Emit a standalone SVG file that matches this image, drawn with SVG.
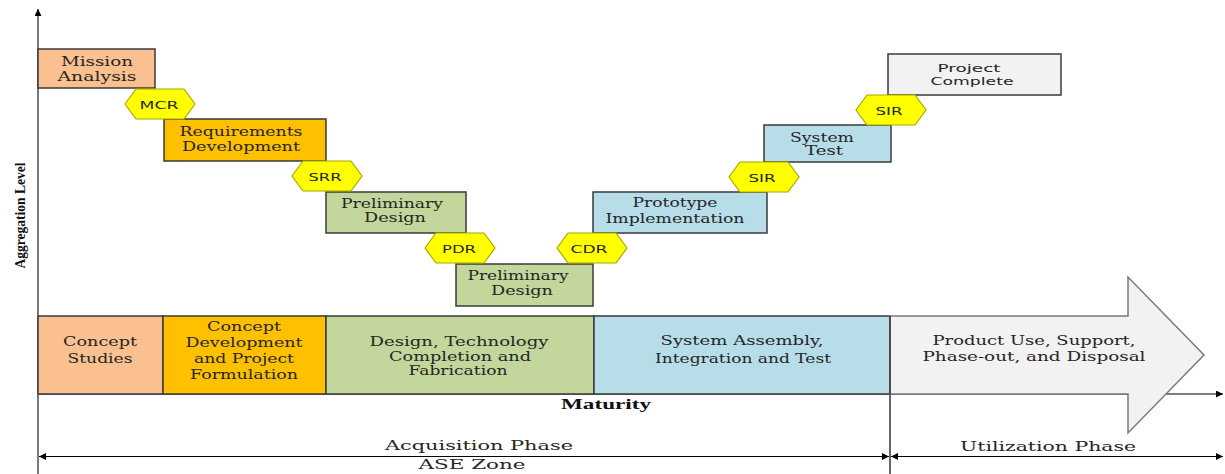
<svg xmlns="http://www.w3.org/2000/svg" width="1225" height="474" viewBox="0 0 1225 474">
<style>
.bx{stroke:#3a3a3a;stroke-width:1.5}
.peach{fill:#FAC090}.gold{fill:#FFC000}.green{fill:#C3D69B}.blue{fill:#B7DDE8}.grey{fill:#F2F2F2}
.hex{fill:#FFFF00;stroke:#A8A800;stroke-width:1.2}
.t{font-family:"DejaVu Serif","Liberation Serif",serif;font-size:12.5px;fill:#262626;text-anchor:middle}
.s{font-family:"DejaVu Sans","Liberation Sans",sans-serif;font-size:11px;fill:#262626;text-anchor:middle}
.lbl{font-family:"DejaVu Serif","Liberation Serif",serif;font-size:13px;fill:#262626;text-anchor:middle}
.b{font-family:"Liberation Serif",serif;font-weight:bold;font-size:14px;fill:#111;text-anchor:middle}
.ln{stroke:#000;stroke-width:1.2;fill:none}
</style>
<defs>
<marker id="ah" viewBox="0 0 10 10" refX="10" refY="5" markerWidth="10" markerHeight="7" markerUnits="userSpaceOnUse" orient="auto-start-reverse">
<path d="M0,0 L10,5 L0,10 z" fill="#000"/>
</marker>
<polygon id="hx" points="-35,0 -24,-15 24,-15 35,0 24,15 -24,15"/>
</defs>
<rect width="1225" height="474" fill="#fff"/>

<g id="connectors">
<line class="ln" x1="38" y1="394" x2="1223" y2="394" marker-end="url(#ah)"/>
<line x1="38" y1="474" x2="38" y2="9" stroke="#7a7a7a" stroke-width="2" marker-end="url(#ah)"/>
<line class="ln" x1="39" y1="456.5" x2="889" y2="456.5" marker-start="url(#ah)" marker-end="url(#ah)"/>
<line class="ln" x1="891" y1="456.5" x2="1223" y2="456.5" marker-start="url(#ah)" marker-end="url(#ah)"/>
<line class="ln" x1="890" y1="394" x2="890" y2="474"/>
</g>

<g id="phase-concept-studies">
<rect class="bx peach" x="38" y="316" width="125" height="78"/>
<text class="t" x="100" y="346" textLength="74" lengthAdjust="spacingAndGlyphs">Concept</text>
<text class="t" x="100" y="362.5" textLength="65" lengthAdjust="spacingAndGlyphs">Studies</text>
</g>
<g id="phase-concept-development">
<rect class="bx gold" x="163" y="316" width="163" height="78"/>
<text class="t" x="244" y="331" textLength="74" lengthAdjust="spacingAndGlyphs">Concept</text>
<text class="t" x="244" y="347" textLength="117" lengthAdjust="spacingAndGlyphs">Development</text>
<text class="t" x="244" y="363" textLength="100" lengthAdjust="spacingAndGlyphs">and Project</text>
<text class="t" x="244" y="379" textLength="108" lengthAdjust="spacingAndGlyphs">Formulation</text>
</g>
<g id="phase-design">
<rect class="bx green" x="326" y="316" width="268" height="78"/>
<text class="t" x="459" y="346" textLength="179" lengthAdjust="spacingAndGlyphs">Design, Technology</text>
<text class="t" x="460" y="361" textLength="142" lengthAdjust="spacingAndGlyphs">Completion and</text>
<text class="t" x="458" y="375" textLength="99" lengthAdjust="spacingAndGlyphs">Fabrication</text>
</g>
<g id="phase-system-assembly">
<rect class="bx blue" x="594" y="316" width="296" height="78"/>
<text class="t" x="742" y="345" textLength="163" lengthAdjust="spacingAndGlyphs">System Assembly,</text>
<text class="t" x="743" y="363" textLength="176" lengthAdjust="spacingAndGlyphs">Integration and Test</text>
</g>
<g id="phase-utilization">
<polygon points="890,316 1128,316 1128,277 1204,355 1128,433 1128,394 890,394" fill="#F2F2F2" stroke="#7a7a7a" stroke-width="1.5"/>
<line x1="890" y1="316" x2="890" y2="394" stroke="#3a3a3a" stroke-width="1.5"/>
<text class="t" x="1034" y="345" textLength="203" lengthAdjust="spacingAndGlyphs">Product Use, Support,</text>
<text class="t" x="1034" y="361" textLength="223" lengthAdjust="spacingAndGlyphs">Phase-out, and Disposal</text>
</g>

<g id="mission-analysis">
<rect class="bx peach" x="38" y="49" width="117" height="39"/>
<text class="t" x="97" y="66" textLength="72" lengthAdjust="spacingAndGlyphs">Mission</text>
<text class="t" x="97" y="81" textLength="79" lengthAdjust="spacingAndGlyphs">Analysis</text>
</g>
<g id="requirements-development">
<rect class="bx gold" x="164" y="119" width="162" height="42"/>
<text class="t" x="241" y="136" textLength="123" lengthAdjust="spacingAndGlyphs">Requirements</text>
<text class="t" x="241" y="151" textLength="118" lengthAdjust="spacingAndGlyphs">Development</text>
</g>
<g id="preliminary-design-1">
<rect class="bx green" x="326" y="192" width="140" height="41"/>
<text class="t" x="392" y="208" textLength="102" lengthAdjust="spacingAndGlyphs">Preliminary</text>
<text class="t" x="395" y="222" textLength="62" lengthAdjust="spacingAndGlyphs">Design</text>
</g>
<g id="preliminary-design-2">
<rect class="bx green" x="456" y="264" width="137" height="42"/>
<text class="t" x="518" y="280" textLength="101" lengthAdjust="spacingAndGlyphs">Preliminary</text>
<text class="t" x="522" y="295" textLength="62" lengthAdjust="spacingAndGlyphs">Design</text>
</g>
<g id="prototype-implementation">
<rect class="bx blue" x="593" y="192" width="174" height="41"/>
<text class="t" x="675" y="207" textLength="85" lengthAdjust="spacingAndGlyphs">Prototype</text>
<text class="t" x="675" y="223" textLength="139" lengthAdjust="spacingAndGlyphs">Implementation</text>
</g>
<g id="system-test">
<rect class="bx blue" x="764" y="125" width="127" height="37"/>
<text class="t" x="822" y="142" textLength="64" lengthAdjust="spacingAndGlyphs">System</text>
<text class="t" x="824" y="155" textLength="38" lengthAdjust="spacingAndGlyphs">Test</text>
</g>
<g id="project-complete">
<rect class="bx grey" x="888" y="54" width="173" height="41"/>
<text class="s" x="969" y="72" textLength="63" lengthAdjust="spacingAndGlyphs">Project</text>
<text class="s" x="972" y="85" textLength="83" lengthAdjust="spacingAndGlyphs">Complete</text>
</g>

<g id="mcr"><use href="#hx" class="hex" x="160" y="104"/><text class="s" x="159" y="109" textLength="39" lengthAdjust="spacingAndGlyphs">MCR</text></g>
<g id="srr"><use href="#hx" class="hex" x="327" y="176"/><text class="s" x="325" y="181" textLength="33" lengthAdjust="spacingAndGlyphs">SRR</text></g>
<g id="pdr"><use href="#hx" class="hex" x="460" y="248"/><text class="s" x="459" y="253" textLength="34" lengthAdjust="spacingAndGlyphs">PDR</text></g>
<g id="cdr"><use href="#hx" class="hex" x="592" y="248"/><text class="s" x="589" y="253" textLength="37" lengthAdjust="spacingAndGlyphs">CDR</text></g>
<g id="sir-1"><use href="#hx" class="hex" x="764" y="177"/><text class="s" x="762" y="182" textLength="27" lengthAdjust="spacingAndGlyphs">SIR</text></g>
<g id="sir-2"><use href="#hx" class="hex" x="891" y="110"/><text class="s" x="889" y="115" textLength="27" lengthAdjust="spacingAndGlyphs">SIR</text></g>

<g id="labels">
<text class="b" transform="translate(25,215.5) rotate(-90)" font-size="16" textLength="106" lengthAdjust="spacingAndGlyphs">Aggregation Level</text>
<text class="b" x="606" y="409" font-size="15" textLength="90" lengthAdjust="spacingAndGlyphs">Maturity</text>
<text class="lbl" x="479" y="450" textLength="188" lengthAdjust="spacingAndGlyphs">Acquisition Phase</text>
<text class="lbl" x="472" y="469" textLength="107" lengthAdjust="spacingAndGlyphs">ASE Zone</text>
<text class="lbl" x="1048" y="451" textLength="176" lengthAdjust="spacingAndGlyphs">Utilization Phase</text>
</g>
</svg>
